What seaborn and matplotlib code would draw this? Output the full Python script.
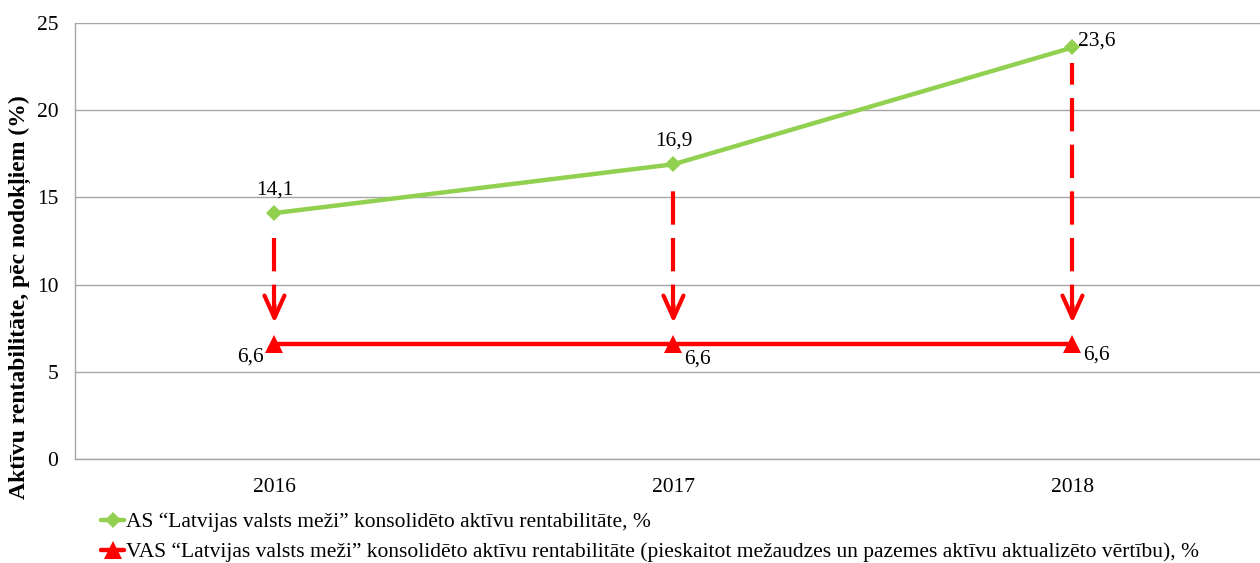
import pandas as pd
import numpy as np
import matplotlib.pyplot as plt
import seaborn as sns

sns.set_theme(style="white")
plt.rcParams['font.family'] = ['Liberation Serif', 'DejaVu Serif']
plt.rcParams['text.color'] = 'black'
plt.rcParams['axes.labelcolor'] = 'black'
plt.rcParams['xtick.color'] = 'black'
plt.rcParams['ytick.color'] = 'black'

# %% Dati
years = ['2016', '2017', '2018']
as_values = [14.1, 16.9, 23.6]
vas_values = [6.6, 6.6, 6.6]
as_labels = ['14,1', '16,9', '23,6']
vas_labels = ['6,6', '6,6', '6,6']
name_as = 'AS “Latvijas valsts meži” konsolidēto aktīvu rentabilitāte, %'
name_vas = ('VAS “Latvijas valsts meži” konsolidēto aktīvu rentabilitāte '
            '(pieskaitot mežaudzes un pazemes aktīvu aktualizēto vērtību), %')

green = '#92D050'
red = '#FF0000'
fs = 15.5

df = pd.DataFrame({'pos': range(len(years)), 'AS': as_values, 'VAS': vas_values})

# %% Grafiks
fig = plt.figure(figsize=(12.6, 5.63), dpi=100)
ax = fig.add_axes([0.0595, 0.185, 0.9405, 0.774])

sns.lineplot(data=df, x='pos', y='AS', ax=ax, color=green, lw=3.2, marker='D',
             markersize=8, markeredgewidth=0, label=name_as)
sns.lineplot(data=df, x='pos', y='VAS', ax=ax, color=red, lw=3.2, marker='^',
             markersize=13, markeredgewidth=0, label=name_vas)

# bultas no zaļās līnijas uz sarkano: raustīta līnija + atvērta bultas galva
for i in df.pos:
    tip = vas_values[i] + 1.2
    ax.vlines(i, tip + 0.3, as_values[i] - 0.9, color=red, lw=3,
              linestyle=(0, (8, 3.2)), zorder=1)
    ax.annotate('', xy=(i, tip), xytext=(i, tip + 1.0),
                arrowprops=dict(arrowstyle='->,head_length=0.4,head_width=0.18',
                                color=red, lw=3, mutation_scale=40,
                                shrinkA=0, shrinkB=0))

# datu etiķetes
ax.annotate(as_labels[0], (0, as_values[0]), xytext=(0, 10), textcoords='offset points',
            ha='center', va='bottom', fontsize=fs)
ax.annotate(as_labels[1], (1, as_values[1]), xytext=(0, 10), textcoords='offset points',
            ha='center', va='bottom', fontsize=fs)
ax.annotate(as_labels[2], (2, as_values[2]), xytext=(4, -2), textcoords='offset points',
            ha='left', va='bottom', fontsize=fs)
ax.annotate(vas_labels[0], (0, vas_values[0]), xytext=(-8, -3), textcoords='offset points',
            ha='right', va='top', fontsize=fs)
ax.annotate(vas_labels[1], (1, vas_values[1]), xytext=(8, -4), textcoords='offset points',
            ha='left', va='top', fontsize=fs)
ax.annotate(vas_labels[2], (2, vas_values[2]), xytext=(8, -1), textcoords='offset points',
            ha='left', va='top', fontsize=fs)

ax.set_xlim(-0.5, 2.47)
ax.set_ylim(0, 25)
ax.set_yticks(np.arange(0, 26, 5))
ax.set_xticks(df.pos)
ax.set_xticklabels(years)
ax.tick_params(axis='x', labelsize=fs, length=0, pad=14)
ax.tick_params(axis='y', labelsize=fs, length=0, pad=12)
ax.set_xlabel('')
ax.set_ylabel('Aktīvu rentabilitāte, pēc nodokļiem (%)', fontsize=17,
              fontweight='bold', labelpad=4)
ax.yaxis.label.set_y(0.372)
ax.yaxis.grid(True, color='#A6A6A6', lw=1)
for s in ['top', 'right']:
    ax.spines[s].set_visible(False)
for s in ['left', 'bottom']:
    ax.spines[s].set_color('#A6A6A6')
    ax.spines[s].set_linewidth(1)

ax.legend(loc='upper left', bbox_to_anchor=(0.08, 0.09), bbox_transform=fig.transFigure,
          frameon=False, fontsize=fs, handlelength=1.1, handletextpad=0.05,
          labelspacing=0.45, borderaxespad=0, borderpad=0)

fig.savefig('out.png', dpi=100)
